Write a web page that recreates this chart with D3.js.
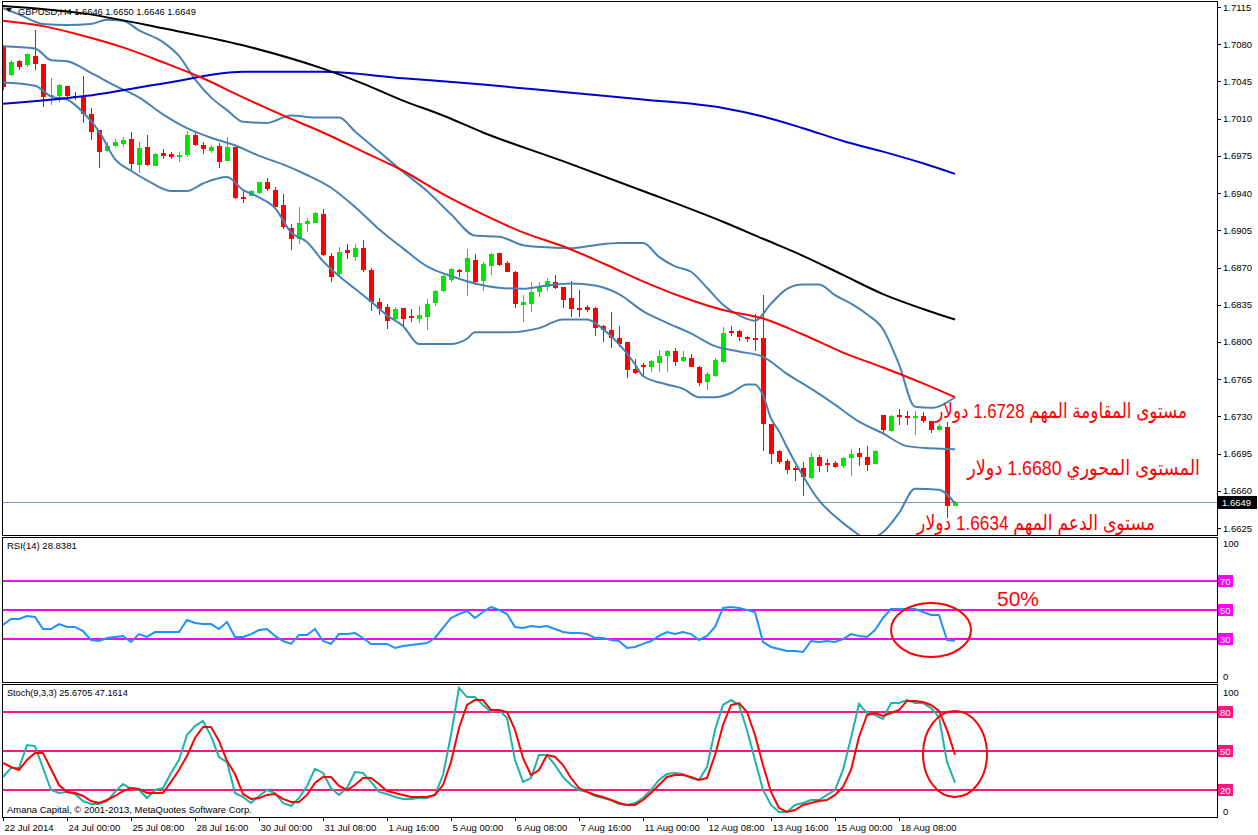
<!DOCTYPE html>
<html><head><meta charset="utf-8">
<script src="https://cdn.jsdelivr.net/npm/d3@7"></script>
<style>body{margin:0;background:#fff;} svg{display:block;font-family:"Liberation Sans",Arial,sans-serif;}</style>
</head><body><svg id="c" width="1258" height="835"></svg>
<script>
// ---------- DATA ----------
const opens  = [1.7077,1.7051,1.7064,1.7060,1.7069,1.7061,1.7030,1.7031,1.7041,1.7031,1.7030,1.7014,1.6999,1.6980,1.6984,1.6986,1.6991,1.6966,1.6983,1.6965,1.6978,1.6977,1.6974,1.6976,1.6995,1.6985,1.6980,1.6984,1.6970,1.6983,1.6936,1.6937,1.6940,1.6950,1.6943,1.6929,1.6907,1.6897,1.6911,1.6912,1.6920,1.6881,1.6864,1.6886,1.6880,1.6888,1.6868,1.6838,1.6833,1.6822,1.6832,1.6824,1.6822,1.6823,1.6837,1.6848,1.6858,1.6868,1.6866,1.6877,1.6857,1.6871,1.6884,1.6874,1.6866,1.6835,1.6836,1.6847,1.6852,1.6856,1.6852,1.6841,1.6832,1.6833,1.6832,1.6815,1.6811,1.6804,1.6800,1.6775,1.6778,1.6776,1.6780,1.6787,1.6791,1.6782,1.6785,1.6776,1.6762,1.6768,1.6781,1.6810,1.6810,1.6805,1.6804,1.6804,1.6723,1.6697,1.6688,1.6681,1.6681,1.6672,1.6692,1.6686,1.6686,1.6683,1.6691,1.6696,1.6692,1.6685,1.6731,1.6716,1.6731,1.6730,1.6729,1.6730,1.6726,1.6717,1.6720,1.6646];
const highs  = [1.7079,1.7065,1.7065,1.7072,1.7093,1.7061,1.7048,1.7043,1.7041,1.7035,1.7050,1.7020,1.6999,1.6988,1.6991,1.6993,1.6997,1.6988,1.6995,1.6978,1.6981,1.6979,1.6979,1.6998,1.6998,1.6988,1.6985,1.6987,1.6993,1.6983,1.6942,1.6943,1.6950,1.6954,1.6946,1.6939,1.6911,1.6927,1.6917,1.6922,1.6925,1.6884,1.6889,1.6892,1.6892,1.6896,1.6870,1.6841,1.6836,1.6833,1.6832,1.6831,1.6834,1.6840,1.6849,1.6863,1.6870,1.6869,1.6887,1.6883,1.6875,1.6884,1.6884,1.6876,1.6867,1.6844,1.6856,1.6856,1.6860,1.6863,1.6852,1.6857,1.6849,1.6835,1.6833,1.6816,1.6828,1.6815,1.6800,1.6784,1.6780,1.6783,1.6792,1.6792,1.6794,1.6791,1.6789,1.6777,1.6772,1.6785,1.6814,1.6815,1.6811,1.6806,1.6826,1.6844,1.6723,1.6698,1.6690,1.6683,1.6687,1.6696,1.6694,1.6690,1.6688,1.6692,1.6699,1.6700,1.6702,1.6698,1.6731,1.6731,1.6737,1.6735,1.6735,1.6734,1.6726,1.6723,1.6725,1.6650];
const lows   = [1.7037,1.7050,1.7056,1.7059,1.7056,1.7021,1.7023,1.7026,1.7028,1.7028,1.7006,1.6990,1.6964,1.6979,1.6983,1.6983,1.6962,1.6959,1.6965,1.6965,1.6972,1.6972,1.6969,1.6974,1.6984,1.6977,1.6978,1.6964,1.6970,1.6934,1.6931,1.6937,1.6939,1.6942,1.6927,1.6906,1.6886,1.6892,1.6903,1.6912,1.6881,1.6856,1.6861,1.6878,1.6876,1.6866,1.6829,1.6825,1.6812,1.6819,1.6815,1.6819,1.6818,1.6811,1.6834,1.6847,1.6856,1.6861,1.6843,1.6854,1.6848,1.6863,1.6871,1.6866,1.6832,1.6819,1.6828,1.6842,1.6848,1.6850,1.6832,1.6823,1.6823,1.6828,1.6806,1.6800,1.6794,1.6795,1.6766,1.6770,1.6768,1.6772,1.6772,1.6772,1.6777,1.6781,1.6776,1.6759,1.6755,1.6767,1.6780,1.6806,1.6801,1.6800,1.6791,1.6697,1.6685,1.6685,1.6676,1.6669,1.6655,1.6671,1.6678,1.6678,1.6681,1.6681,1.6674,1.6683,1.6679,1.6685,1.6712,1.6715,1.6722,1.6722,1.6712,1.6724,1.6714,1.6716,1.6634,1.6646];
const closes = [1.7040,1.7063,1.7059,1.7071,1.7061,1.7030,1.7032,1.7042,1.7031,1.7030,1.7014,1.6997,1.6979,1.6984,1.6988,1.6990,1.6967,1.6982,1.6966,1.6977,1.6975,1.6974,1.6976,1.6995,1.6985,1.6981,1.6983,1.6969,1.6983,1.6935,1.6935,1.6942,1.6950,1.6944,1.6927,1.6908,1.6897,1.6912,1.6914,1.6921,1.6882,1.6861,1.6885,1.6884,1.6888,1.6868,1.6838,1.6831,1.6820,1.6831,1.6822,1.6823,1.6825,1.6836,1.6848,1.6862,1.6869,1.6866,1.6879,1.6856,1.6873,1.6883,1.6872,1.6866,1.6836,1.6838,1.6847,1.6852,1.6857,1.6851,1.6839,1.6831,1.6831,1.6830,1.6813,1.6811,1.6804,1.6798,1.6774,1.6771,1.6777,1.6782,1.6787,1.6791,1.6781,1.6786,1.6776,1.6761,1.6770,1.6783,1.6808,1.6809,1.6805,1.6803,1.6803,1.6723,1.6695,1.6687,1.6680,1.6680,1.6673,1.6692,1.6683,1.6685,1.6682,1.6691,1.6695,1.6692,1.6684,1.6697,1.6717,1.6730,1.6729,1.6729,1.6730,1.6726,1.6717,1.6721,1.6646,1.6649];

// moving averages and Bollinger bands: [bar, price]
const maRed   = [[0,1.7102],[5,1.7097],[10,1.7088],[15,1.7077],[20,1.7063],[25,1.7048],[30,1.7030],[35,1.7013],[40,1.6997],[45,1.6979],[50,1.6961],[55,1.6939],[60,1.6920],[65,1.6903],[70,1.6890],[75,1.6874],[80,1.6857],[85,1.6842],[90,1.6830],[95,1.6822],[100,1.6807],[105,1.6790],[110,1.6776],[115,1.6761],[119,1.6748]];
const maBlack = [[0,1.7116],[10,1.7109],[20,1.7095],[30,1.7079],[40,1.7057],[45,1.7043],[50,1.7027],[55,1.7013],[60,1.6997],[70,1.6970],[80,1.6942],[90,1.6913],[95,1.6897],[100,1.6881],[105,1.6863],[110,1.6845],[115,1.6831],[119,1.6821]];
const maBlue  = [[0,1.7024],[10,1.7031],[20,1.7043],[30,1.7054],[40,1.7054],[50,1.7048],[60,1.7042],[70,1.7035],[80,1.7028],[90,1.7020],[95,1.7012],[100,1.7001],[105,1.6989],[110,1.6979],[115,1.6968],[119,1.6958]];
const bbUpper = [[0,1.7114],[2,1.7108],[5,1.7099],[8,1.7098],[11,1.7099],[13,1.7103],[15,1.7102],[17,1.7093],[20,1.7082],[22,1.7069],[24,1.7047],[26,1.7030],[28,1.7018],[30,1.7007],[33,1.7006],[36,1.7013],[39,1.7011],[42,1.7011],[44,1.6998],[47,1.6979],[50,1.6960],[53,1.6942],[56,1.6920],[59,1.6900],[62,1.6899],[65,1.6891],[68,1.6889],[71,1.6888],[74,1.6891],[77,1.6893],[80,1.6893],[82,1.6880],[84,1.6871],[86,1.6866],[88,1.6851],[90,1.6835],[92,1.6825],[94,1.6820],[96,1.6836],[98,1.6850],[100,1.6854],[102,1.6854],[104,1.6844],[106,1.6836],[108,1.6826],[110,1.6812],[112,1.6779],[114,1.6739],[116,1.6738],[119,1.6748]];
const bbMiddle = [[0,1.7078],[4,1.7076],[6,1.7065],[8,1.7064],[11,1.7053],[14,1.7041],[17,1.7030],[20,1.7014],[23,1.7001],[26,1.6992],[29,1.6985],[32,1.6975],[35,1.6967],[38,1.6957],[41,1.6945],[44,1.6927],[47,1.6906],[50,1.6888],[53,1.6871],[56,1.6862],[59,1.6855],[62,1.6851],[65,1.6850],[68,1.6853],[71,1.6855],[74,1.6853],[77,1.6845],[80,1.6829],[83,1.6818],[86,1.6808],[89,1.6796],[92,1.6791],[95,1.6786],[98,1.6770],[101,1.6756],[104,1.6741],[107,1.6725],[110,1.6714],[113,1.6702],[116,1.6700],[119,1.6699]];
const bbLower = [[0,1.7044],[4,1.7041],[6,1.7031],[8,1.7028],[10,1.7016],[12,1.6998],[14,1.6972],[16,1.6961],[18,1.6952],[21,1.6942],[23,1.6942],[25,1.6949],[28,1.6955],[30,1.6943],[32,1.6936],[34,1.6926],[36,1.6903],[38,1.6894],[40,1.6876],[42,1.6862],[44,1.6850],[46,1.6838],[48,1.6825],[50,1.6815],[52,1.6798],[56,1.6798],[58,1.6803],[59,1.6809],[63,1.6809],[67,1.6813],[70,1.6821],[73,1.6821],[75,1.6812],[77,1.6798],[79,1.6779],[80,1.6768],[83,1.6760],[85,1.6756],[87,1.6748],[89,1.6748],[91,1.6752],[93,1.6760],[94,1.6760],[95,1.6750],[96,1.6728],[97,1.6716],[98,1.6701],[100,1.6674],[102,1.6651],[104,1.6636],[106,1.6624],[108,1.6615],[110,1.6621],[112,1.6639],[114,1.6662],[117,1.6661],[119,1.6648]];

const rsiValues = [39.7,43.8,43.8,45.9,45.2,36.9,36.9,40.3,38.3,38.3, 35.5,29.3,28.6,30.7,31.4,32.1,27.9,33.4,31.4,34.8, 34.8,34.8,34.8,43.1,41.0,40.3,40.3,36.9,41.7,31.4, 31.4,33.4,36.2,36.9,32.1,28.6,26.6,32.8,32.8,36.9, 28.6,26.6,33.4,33.4,34.1,30.7,26.6,26.6,26.6,23.8, 25.2,25.9,26.6,27.2,30.7,37.6,44.5,47.2,49.3,44.5, 48.6,52.1,50.0,47.2,38.3,37.6,39.0,38.3,39.0,36.9, 34.8,34.1,34.1,33.4,30.7,30.7,29.3,28.6,23.8,24.5, 26.6,28.6,32.1,34.8,33.4,34.8,33.4,29.3,32.1,38.3, 51.4,52.1,51.4,50.0,48.6,27.9,24.5,23.1,21.7,21.7, 21.0,28.6,27.9,28.6,27.9,30.0,33.4,32.1,31.4,36.2, 44.5,50.7,50.7,50.7,50.7,48.6,46.6,46.6,29.3,28.84];
const stochK = [30.0,36.9,36.9,54.6,53.8,36.9,20.0,17.7,18.5,16.9, 11.5,9.2,9.2,11.5,18.5,24.6,20.8,20.0,13.8,20.0, 21.5,33.1,43.1,62.3,69.2,73.1,61.5,45.4,41.5,17.7, 14.6,10.0,15.4,20.0,17.7,10.0,7.7,13.8,23.1,36.2, 33.1,21.5,16.2,21.5,33.8,33.1,26.2,18.5,16.9,14.6, 13.1,13.1,13.8,13.8,16.2,31.5,62.3,98.5,91.5,91.5, 85.4,80.0,81.5,75.4,43.1,26.2,29.2,46.9,46.9,39.2, 30.0,23.8,20.0,18.5,15.4,13.8,12.3,9.2,8.5,10.0, 13.8,20.0,27.7,32.3,33.1,32.3,29.2,27.7,37.7,66.2, 85.4,89.2,85.4,66.2,43.1,20.0,8.5,3.1,3.1,8.5, 10.0,12.3,12.3,16.2,20.0,35.4,60.0,86.2,79.2,77.7, 74.6,86.9,86.9,89.2,86.9,86.9,83.1,76.2,41.5,25.67];
const stochD = [40.8,37.7,35.4,43.1,48.5,48.5,36.2,23.8,18.5,17.7, 15.4,11.5,10.0,12.3,15.4,19.2,21.5,20.8,17.7,17.7, 17.7,26.2,35.4,46.2,60.0,68.5,68.5,57.7,42.3,32.3, 16.9,13.1,13.8,16.2,16.9,13.1,10.8,10.8,16.2,25.4, 30.0,30.0,23.1,20.0,23.8,29.2,29.2,24.6,19.2,17.7, 16.2,14.6,14.6,14.6,16.2,23.8,41.5,67.7,85.4,89.2, 89.2,81.5,81.5,80.0,66.2,44.6,31.5,35.4,46.9,45.4, 39.2,29.2,21.5,18.5,16.2,14.6,12.3,10.0,8.5,8.5, 12.3,17.7,23.8,30.0,31.5,31.5,30.0,27.7,29.2,46.9, 70.0,85.4,86.9,80.0,62.3,39.2,18.5,6.2,3.1,4.6, 8.5,10.0,11.5,12.3,16.2,22.3,35.4,60.8,77.7,79.2, 76.9,79.2,81.5,88.5,88.5,87.7,85.4,80.8,66.2,47.16];

const priceTicks = [1.7115,1.7080,1.7045,1.7010,1.6975,1.6940,1.6905,1.6870,1.6835,1.6800,1.6765,1.6730,1.6695,1.6660,1.6625];
const dateTickBars = [0,8,16,24,32,40,48,56,64,72,80,88,96,104,112];
const dateLabels = ["22 Jul 2014","24 Jul 00:00","25 Jul 08:00","28 Jul 16:00","30 Jul 00:00","31 Jul 08:00","1 Aug 16:00","5 Aug 00:00","6 Aug 08:00","7 Aug 16:00","11 Aug 00:00","12 Aug 08:00","13 Aug 16:00","15 Aug 00:00","18 Aug 08:00"];
const rsiLevels = [70,50,30];
const stochLevels = [80,50,20];
const lastPrice = 1.6649;
const header = "GBPUSD,H4 1.6646 1.6650 1.6646 1.6649";
const rsiTitle = "RSI(14) 28.8381";
const stochTitle = "Stoch(9,3,3) 25.6705 47.1614";
const copyright = "Amana Capital, © 2001-2013, MetaQuotes Software Corp.";
const notes = [
  {text:"مستوى المقاومة المهم 1.6728 دولار", price:1.6728},
  {text:"المستوى المحوري 1.6680 دولار", price:1.6680},
  {text:"مستوى الدعم المهم 1.6634 دولار", price:1.6634}
];

// ---------- LAYOUT ----------
const svg = d3.select("#c");
const L = 2, R = 1217;
const main = {top:1, bottom:535};
const rsiP = {top:537, bottom:682};
const stP = {top:684, bottom:817};

const x = d3.scaleLinear().domain([0,119]).range([3,955]);
const yP = d3.scaleLinear().domain([1.6625,1.7115]).range([528,7]);
const yR = d3.scaleLinear().domain([0,100]).range([682.5,537.5]);
const yS = d3.scaleLinear().domain([0,100]).range([816,686]);

svg.append("rect").attr("width",1258).attr("height",835).attr("fill","#fff");
const defs = svg.append("defs");
function clip(id, p){ defs.append("clipPath").attr("id",id).append("rect")
  .attr("x",L+1).attr("y",p.top+1).attr("width",R-L-1).attr("height",p.bottom-p.top-1); }
clip("cm",main); clip("cr",rsiP); clip("cs",stP);

const gM = svg.append("g").attr("clip-path","url(#cm)");
const gR = svg.append("g").attr("clip-path","url(#cr)");
const gS = svg.append("g").attr("clip-path","url(#cs)");

// current price line
gM.append("line").attr("x1",L).attr("x2",R).attr("y1",Math.round(yP(lastPrice))+0.5).attr("y2",Math.round(yP(lastPrice))+0.5)
  .attr("stroke","#8496a8").attr("stroke-width",1);

// candles
const bars = d3.range(opens.length).map(i=>({i,o:opens[i],h:highs[i],l:lows[i],c:closes[i]}));
const bull = "#00e600", bear = "#ff0000";
const cg = gM.append("g").attr("shape-rendering","crispEdges");
cg.selectAll("line.w").data(bars).join("line").attr("class","w")
  .attr("x1",d=>x(d.i)+0.5).attr("x2",d=>x(d.i)+0.5)
  .attr("y1",d=>yP(d.h)).attr("y2",d=>yP(d.l))
  .attr("stroke",d=>d.c>=d.o?bull:bear).attr("stroke-width",1);
cg.selectAll("rect.b").data(bars).join("rect").attr("class","b")
  .attr("x",d=>x(d.i)-2).attr("width",5)
  .attr("y",d=>yP(Math.max(d.o,d.c)))
  .attr("height",d=>Math.max(2,yP(Math.min(d.o,d.c))-yP(Math.max(d.o,d.c))))
  .attr("fill",d=>d.c>=d.o?bull:bear);

// indicator lines on price
const pl = d3.line().x(d=>x(d[0])).y(d=>yP(d[1])).curve(d3.curveMonotoneX);
[[bbUpper,"#4682b4"],[bbMiddle,"#4682b4"],[bbLower,"#4682b4"],[maBlue,"#0000cd"],[maBlack,"#000000"],[maRed,"#ff0000"]]
  .forEach(([d,c])=>gM.append("path").attr("d",pl(d)).attr("fill","none").attr("stroke",c).attr("stroke-width",2));

// RSI
rsiLevels.forEach(v=>gR.append("line").attr("x1",L).attr("x2",R).attr("y1",yR(v)).attr("y2",yR(v))
  .attr("stroke","#ff00ff").attr("stroke-width",2));
gR.append("path").attr("d",d3.line().x((d,i)=>x(i)).y(d=>yR(d))(rsiValues))
  .attr("fill","none").attr("stroke","#1e90ff").attr("stroke-width",2);

// Stochastic
stochLevels.forEach(v=>gS.append("line").attr("x1",L).attr("x2",R).attr("y1",yS(v)).attr("y2",yS(v))
  .attr("stroke","#ff1480").attr("stroke-width",2));
gS.append("path").attr("d",d3.line().x((d,i)=>x(i)).y(d=>yS(d))(stochK))
  .attr("fill","none").attr("stroke","#20b2aa").attr("stroke-width",2);
gS.append("path").attr("d",d3.line().x((d,i)=>x(i)).y(d=>yS(d))(stochD))
  .attr("fill","none").attr("stroke","#ff0000").attr("stroke-width",2);

// frames
const fr = svg.append("g").attr("fill","none").attr("stroke","#000").attr("shape-rendering","crispEdges");
[main,rsiP,stP].forEach(p=>fr.append("rect").attr("x",L+0.5).attr("y",p.top+0.5).attr("width",R-L).attr("height",p.bottom-p.top));

// right axis – price
const ax = svg.append("g").attr("font-size","9.5px").attr("fill","#000");
const tk = svg.append("g").attr("stroke","#000").attr("shape-rendering","crispEdges");
priceTicks.forEach(v=>{
  tk.append("line").attr("x1",R).attr("x2",R+4).attr("y1",Math.round(yP(v))+0.5).attr("y2",Math.round(yP(v))+0.5);
  ax.append("text").attr("x",R+6).attr("y",yP(v)).attr("dominant-baseline","central").text(v.toFixed(4));
});
const ly = yP(lastPrice);
svg.append("rect").attr("x",R+1).attr("y",ly-6.5).attr("width",39).attr("height",13).attr("fill","#000");
svg.append("text").attr("x",R+5).attr("y",ly).attr("dominant-baseline","central").attr("font-size","9.5px").attr("fill","#fff").text(lastPrice.toFixed(4));

// RSI axis
[[100,yR(100)+6],[0,yR(0)-6]].forEach(([v,yy])=>ax.append("text").attr("x",R+6).attr("y",yy).attr("dominant-baseline","central").text(v));
rsiLevels.forEach(v=>{
  svg.append("rect").attr("x",R+1).attr("y",yR(v)-6).attr("width",15).attr("height",12).attr("fill","#ff00ff");
  svg.append("text").attr("x",R+3).attr("y",yR(v)).attr("dominant-baseline","central").attr("font-size","9.5px").attr("fill","#fff").text(v);
});
// Stoch axis
[[100,yS(100)+6],[0,yS(0)-5]].forEach(([v,yy])=>ax.append("text").attr("x",R+6).attr("y",yy).attr("dominant-baseline","central").text(v));
stochLevels.forEach(v=>{
  svg.append("rect").attr("x",R+1).attr("y",yS(v)-6).attr("width",15).attr("height",12).attr("fill","#ff1480");
  svg.append("text").attr("x",R+3).attr("y",yS(v)).attr("dominant-baseline","central").attr("font-size","9.5px").attr("fill","#fff").text(v);
});

// bottom axis
dateTickBars.forEach((b,k)=>{
  tk.append("line").attr("x1",x(b)+0.5).attr("x2",x(b)+0.5).attr("y1",stP.bottom).attr("y2",stP.bottom+4);
  ax.append("text").attr("x",x(b)+1.5).attr("y",831).text(dateLabels[k]);
});

// titles
function fitText(sel, w){ // scale font so the text spans the width seen in the picture
  const n = sel.node(); const cur = n.getComputedTextLength();
  const fs = parseFloat(sel.attr("font-size")); sel.attr("font-size",(fs*w/cur).toFixed(2)+"px");
}
svg.append("path").attr("d","M6,8 L12,8 L9,12 Z").attr("fill","#000");
fitText(svg.append("text").attr("x",18).attr("y",14.5).attr("font-size","10px").text(header),178);
svg.append("text").attr("x",7).attr("y",549).attr("font-size","9.5px").text(rsiTitle);
fitText(svg.append("text").attr("x",7).attr("y",696).attr("font-size","9.5px").text(stochTitle),121);
fitText(svg.append("text").attr("x",7).attr("y",813).attr("font-size","9.5px").text(copyright),245);

// annotations (horizontally scaled to the width they take in the picture)
const noteX = [1187,1200,1155];
const noteW = [252,233,238];
const noteDy = [0,5,12];
notes.forEach((n,k)=>{
  const t = svg.append("text").attr("x",0).attr("y",0)
    .attr("text-anchor","end").attr("font-size","21px").attr("fill","#ff0000")
    .attr("font-family","'Liberation Sans','DejaVu Sans',sans-serif").text(n.text);
  const w = t.node().getComputedTextLength();
  t.attr("transform",`translate(${noteX[k]},${yP(n.price)+noteDy[k]}) scale(${(noteW[k]/w).toFixed(4)},1)`);
});
svg.append("text").attr("x",997).attr("y",606).attr("font-size","21px").attr("fill","#ff0000").text("50%");
svg.append("ellipse").attr("cx",931).attr("cy",630).attr("rx",40).attr("ry",27).attr("fill","none").attr("stroke","#ff0000").attr("stroke-width",2);
svg.append("ellipse").attr("cx",955).attr("cy",754).attr("rx",32).attr("ry",43).attr("fill","none").attr("stroke","#ff0000").attr("stroke-width",2);
</script>
</body></html>
